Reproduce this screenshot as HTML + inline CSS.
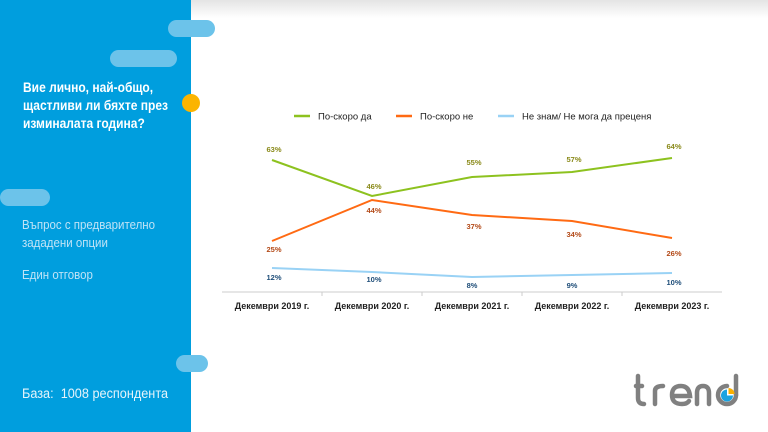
<!DOCTYPE html>
<html><head><meta charset="utf-8"><style>
body{margin:0;width:768px;height:432px;overflow:hidden;background:#fff;font-family:"Liberation Sans",sans-serif;position:relative}
.p{position:absolute}
.pill{position:absolute;background:#6cc3ea;border-radius:9px}
</style></head><body>
<div class="p" style="left:191px;top:0;width:577px;height:18px;background:linear-gradient(#e4e4e4,#fff)"></div>
<div class="p" style="left:0;top:0;width:191px;height:432px;background:#009ede"></div>
<div class="pill" style="left:168px;top:20px;width:47px;height:17px"></div>
<div class="pill" style="left:110px;top:50px;width:67px;height:17px"></div>
<div class="pill" style="left:0;top:189px;width:50px;height:17px"></div>
<div class="pill" style="left:176px;top:355px;width:32px;height:17px"></div>
<div class="p" style="left:182px;top:94px;width:18px;height:18px;border-radius:50%;background:#fbb400"></div>
<div class="p" style="left:23px;top:79px;color:#fff;font-weight:bold;font-size:13.5px;line-height:18px;transform:scaleX(0.89);transform-origin:0 0;white-space:nowrap">Вие лично, най-общо,<br>щастливи ли бяхте през<br>изминалата година?</div>
<div class="p" style="left:22px;top:216px;color:#bfe3f6;font-size:12.5px;line-height:18px;transform:scaleX(0.92);transform-origin:0 0;white-space:nowrap">Въпрос с предварително<br>зададени опции</div>
<div class="p" style="left:22px;top:268px;color:#bfe3f6;font-size:12.5px;transform:scaleX(0.92);transform-origin:0 0">Един отговор</div>
<div class="p" style="left:22px;top:386px;color:#e6f4fb;font-size:13.5px;transform:scaleX(0.94);transform-origin:0 0;white-space:nowrap">База:&nbsp; 1008 респондента</div>
<svg class="p" style="left:0;top:0" width="768" height="432" font-family="Liberation Sans, sans-serif">
<g font-size="9.5" fill="#222">
<line x1="294" y1="116" x2="310" y2="116" stroke="#8dc21f" stroke-width="2.5"/><text x="318" y="119.5">По-скоро да</text>
<line x1="396" y1="116" x2="412" y2="116" stroke="#ff6a13" stroke-width="2.5"/><text x="420" y="119.5">По-скоро не</text>
<line x1="498" y1="116" x2="514" y2="116" stroke="#99d2f5" stroke-width="2.5"/><text x="522" y="119.5">Не знам/ Не мога да преценя</text>
</g>
<line x1="222" y1="292" x2="722" y2="292" stroke="#ccc"/>
<g stroke="#ccc"><line x1="322" y1="292" x2="322" y2="296"/><line x1="422" y1="292" x2="422" y2="296"/><line x1="522" y1="292" x2="522" y2="296"/><line x1="622" y1="292" x2="622" y2="296"/></g>
<g font-size="9" fill="#222" text-anchor="middle" font-weight="bold">
<text x="272" y="309">Декември 2019 г.</text><text x="372" y="309">Декември 2020 г.</text><text x="472" y="309">Декември 2021 г.</text><text x="572" y="309">Декември 2022 г.</text><text x="672" y="309">Декември 2023 г.</text>
</g>
<polyline fill="none" stroke="#8dc21f" stroke-width="2" points="272,160 372,196 472,177 572,172 672,158"/>
<polyline fill="none" stroke="#ff6a13" stroke-width="2" points="272,241 372,200 472,215 572,221 672,238"/>
<polyline fill="none" stroke="#99d2f5" stroke-width="2" points="272,268 372,272 472,277 572,275 672,273"/>
<g font-size="7.5" font-weight="bold" text-anchor="middle">
<g fill="#8a8a1a"><text x="274" y="152">63%</text><text x="374" y="189">46%</text><text x="474" y="165">55%</text><text x="574" y="162">57%</text><text x="674" y="149">64%</text></g>
<g fill="#b34a18"><text x="274" y="252">25%</text><text x="374" y="213">44%</text><text x="474" y="229">37%</text><text x="574" y="237">34%</text><text x="674" y="256">26%</text></g>
<g fill="#1f4e79"><text x="274" y="280">12%</text><text x="374" y="282">10%</text><text x="472" y="288">8%</text><text x="572" y="288">9%</text><text x="674" y="285">10%</text></g>
</g>
<g fill="none" stroke="#808080" stroke-width="4.5" stroke-linecap="round">
<path d="M638,376 V398 Q638,404 644,404"/><path d="M636,386 H642"/>
<path d="M655,404 V391 Q655,386 663,386"/>
<path d="M672,396 H690 Q689,386 681,386 Q672,386 672,395 Q672,404 682,404 Q687,404 689,401"/>
<path d="M697,404 V393 Q697,386 703,386 Q709,386 709,393 V404"/>
<path d="M736,376 V395"/>
<path d="M736,395 A9,9 0 1 1 727,386"/>
</g>
<path d="M727,389.5 A6,6 0 1 0 733,395.5 L727,395.5 Z" fill="#1aa3e0"/>
<path d="M728.5,388 L728.5,394 L734.5,394 A6,6 0 0 0 728.5,388Z" fill="#f9b000"/>
</svg>
</body></html>
